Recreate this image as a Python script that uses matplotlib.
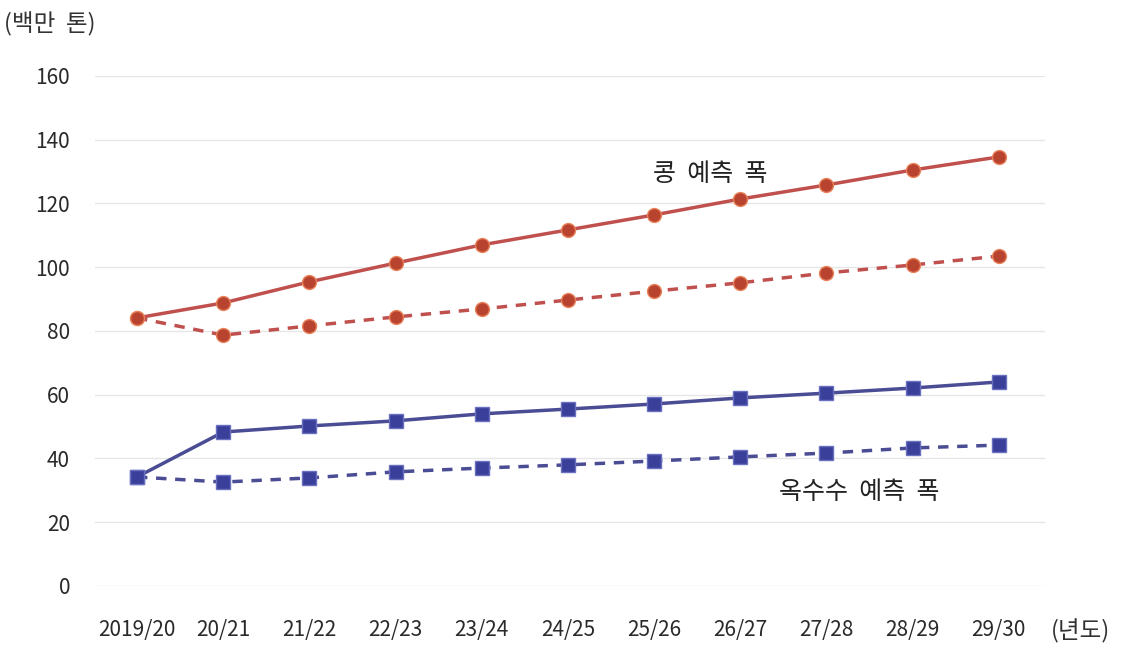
import matplotlib.pyplot as plt
import numpy as np

plt.rcParams['font.family'] = ['Noto Sans CJK KR', 'DejaVu Sans']

# 연도 (x축)
years = ['2019/20', '20/21', '21/22', '22/23', '23/24', '24/25',
         '25/26', '26/27', '27/28', '28/29', '29/30']

# 콩 예측 폭 (상한/하한)
soy_high = [84.1, 88.8, 95.4, 101.3, 107.0, 111.7, 116.4, 121.4, 125.8, 130.5, 134.6]
soy_low = [84.1, 78.7, 81.6, 84.4, 86.9, 89.7, 92.5, 95.1, 98.2, 100.7, 103.5]

# 옥수수 예측 폭 (상한/하한)
corn_high = [34.2, 48.3, 50.2, 51.8, 54.0, 55.5, 57.1, 59.0, 60.5, 62.1, 64.0]
corn_low = [34.2, 32.6, 33.9, 35.8, 37.0, 38.0, 39.2, 40.5, 41.7, 43.3, 44.2]

yticks = [0, 20, 40, 60, 80, 100, 120, 140, 160]

red = '#C0504D'
red_mk = '#B8432F'
blue = '#4A4C94'
blue_mk = '#3A3F9A'

fig = plt.figure(figsize=(11.22, 6.47), dpi=100)
ax = fig.add_axes([0.0847, 0.0943, 0.8467, 0.7883])

x = np.arange(len(years))
ax.plot(x, soy_high, '-', color=red, lw=2.5, marker='o', ms=10,
        mfc=red_mk, mec='#E8825A', mew=1, clip_on=False, zorder=3)
ax.plot(x, soy_low, '--', color=red, lw=2.5, dashes=(3, 2.5), marker='o', ms=10,
        mfc=red_mk, mec='#E8825A', mew=1, clip_on=False, zorder=3)
ax.plot(x, corn_high, '-', color=blue, lw=2.5, marker='s', ms=10,
        mfc=blue_mk, mec='#6A70C0', mew=1, clip_on=False, zorder=3)
ax.plot(x, corn_low, '--', color=blue, lw=2.5, dashes=(3, 2.5), marker='s', ms=10,
        mfc=blue_mk, mec='#6A70C0', mew=1, clip_on=False, zorder=3)

ax.set_xlim(-0.487, 10.536)
ax.set_ylim(0, 160)
ax.set_yticks(yticks)
ax.set_xticks(x)
ax.set_xticklabels(years)
ax.tick_params(axis='both', length=0, labelsize=15, colors='#2A2A2A')
ax.tick_params(axis='y', pad=18)
ax.tick_params(axis='x', pad=24)
for lbl in ax.get_xticklabels() + ax.get_yticklabels():
    lbl.set_fontweight('medium')
ax.grid(axis='y', color='#E6E6E6', lw=1)
ax.set_axisbelow(True)
for s in ax.spines.values():
    s.set_visible(False)

fig.text(0.004, 0.963, '(백만  톤)', fontsize=17, color='#333333', va='center')
fig.text(0.937, 0.024, '(년도)', fontsize=17, color='#333333', va='center')
ax.text(6.65, 129.3, '콩  예측  폭', fontsize=18, color='#222222', ha='center', va='center')
ax.text(8.38, 29.5, '옥수수  예측  폭', fontsize=18, color='#222222', ha='center', va='center')

fig.savefig('out.png', dpi=100)
